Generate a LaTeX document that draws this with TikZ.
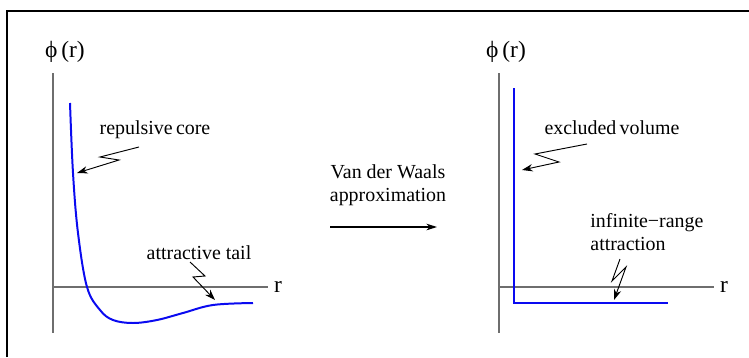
\documentclass[tikz,border=0pt]{standalone}
\usepackage{fontspec}
\setmainfont{Liberation Serif}
\usepackage{tikz}
\usetikzlibrary{arrows.meta,positioning,calc}
\definecolor{axisgray}{HTML}{6E6E6E}
\definecolor{potblue}{HTML}{0A0AF0}
\tikzset{
  axis/.style   = {draw=axisgray,line width=1.1pt},
  pot/.style    = {draw=potblue,line width=1.7pt},
  zap/.style    = {-{Stealth[length=3.2mm,width=2.2mm]},line width=0.8pt},
  approx/.style = {-{Stealth[length=3.2mm,width=2mm]},line width=0.9pt},
  lbl/.style    = {font=\fontsize{17}{20}\selectfont,inner sep=1pt},
  axlbl/.style  = {font=\fontsize{20}{24}\selectfont,inner sep=1pt},
}

\begin{document}
\begin{tikzpicture}[x=0.03cm,y=-0.03cm]
  \useasboundingbox (0,0) rectangle (749,357);
  \draw[line width=1.1pt] (7,357) -- (7,11) -- (749,11);

  % Left: full potential
  \coordinate (oL) at (53,287);
  \draw[axis] (53,73) -- (53,333);
  \draw[axis] (oL) -- (268,287) coordinate (xL);
  \node[axlbl] (phiL) at (65,52) {ϕ\,(r)};
  \node[axlbl,right=4pt of xL] (rL) {r};
  \draw[pot] plot[smooth,tension=0.6] coordinates {
    (70,103) (73,173) (78,233) (87,287) (100,310) (113,320)
    (133,323) (157,320) (183,313) (213,305) (253,303)};

  \node[lbl] (core) at (155,130) {repulsive\,core};
  \coordinate (coreTip) at (77,173);
  \draw[zap] ($(core.center)+(-16,17)$) -- ++(-39,10) -- ++(19,3) -- (coreTip);

  \node[lbl] (tail) at (199,253) {attractive tail};
  \coordinate (tailTip) at (215,300);
  \draw[zap] ($(tail.center)+(-9,9)$) -- ++(15,14) -- ++(-12,1) -- (tailTip);

  % Middle: the approximation
  \node[lbl,align=center] (vdw) at (388,185) {Van der Waals\\approximation};
  \coordinate (arrL) at (330,227);
  \coordinate (arrR) at (437,227);
  \draw[approx] (arrL) -- (arrR);

  % Right: van der Waals potential
  \coordinate (oR) at (499,287);
  \draw[axis] (499,73) -- (499,333);
  \draw[axis] (oR) -- (714,287) coordinate (xR);
  \node[axlbl] (phiR) at (506,52) {ϕ\,(r)};
  \node[axlbl,right=4pt of xR] (rR) {r};
  \draw[pot] (514,88) -- (514,303) -- (668,303);

  \node[lbl] (excl) at (612,128) {excluded\,volume};
  \coordinate (exclTip) at (522,170);
  \draw[zap] ($(excl.center)+(-25,16)$) -- ++(-52,10) -- ++(24,8) -- (exclTip);

  \node[lbl,align=left,anchor=west] (attr) at (589,232) {infinite−range\\attraction};
  \coordinate (attrTip) at (614,300);
  \draw[zap] ($(attr.west)+(31,27)$) -- ++(-8,22) -- ++(14,-14) -- (attrTip);
\end{tikzpicture}
\end{document}
